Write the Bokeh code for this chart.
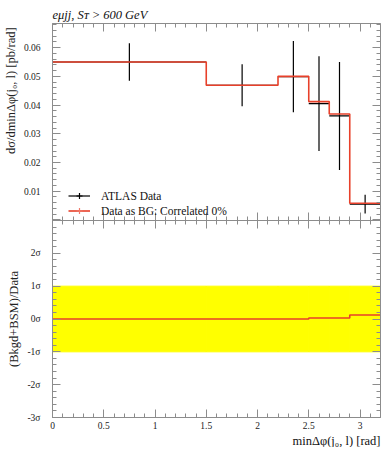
import numpy as np
from bokeh.plotting import figure
from bokeh.layouts import column
from bokeh.models import (Range1d, LinearAxis, SingleIntervalTicker, ColumnDataSource,
                          Legend, LegendItem, Title)
from bokeh.embed import file_html
from bokeh.resources import INLINE

# ---------------- data ----------------
bin_edges = [0.0, 1.5, 2.2, 2.5, 2.7, 2.9, 3.2]
data_y = [0.0550, 0.0469, 0.0499, 0.0405, 0.0362, 0.0055]
data_err = [0.0065, 0.0073, 0.0124, 0.0165, 0.0188, 0.0033]
mc_y = [0.0550, 0.0469, 0.0500, 0.0412, 0.0369, 0.0058]
ratio_sigma = [0.0, 0.0, 0.0, 0.03, 0.03, 0.12]
band_lo = [-1.0] * 6
band_hi = [1.0] * 6
sigma_ticks = [-3, -2, -1, 0, 1, 2]
sigma_labels = ["-3σ", "-2σ", "-1σ", "0σ", "1σ", "2σ"]
x_tick_labels = {0: "0", 1: "1", 2: "2", 3: "3"}

# ---------------- derived ----------------
lo = np.array(bin_edges[:-1])
hi = np.array(bin_edges[1:])
ctr = (lo + hi) / 2
dy = np.array(data_y)
de = np.array(data_err)


def step_xy(edges, vals):
    xs, ys = [], []
    for i, v in enumerate(vals):
        xs += [edges[i], edges[i + 1]]
        ys += [v, v]
    return xs, ys


RED = "#e8402a"
AX = "#8c8c8c"
FONT = "Liberation Serif"
W = 388


def style(ax, labels=True):
    ax.axis_line_color = AX
    ax.major_tick_line_color = AX
    ax.minor_tick_line_color = AX
    ax.major_tick_in = 8
    ax.major_tick_out = 0
    ax.minor_tick_in = 4
    ax.minor_tick_out = 0
    ax.major_label_text_font = FONT
    ax.axis_label_text_font = FONT
    ax.axis_label_text_font_style = "normal"
    ax.axis_label_text_font_size = "12.5px"
    ax.axis_label_text_color = "#222222"
    if labels:
        ax.major_label_text_font_size = "9.5px"
        ax.major_label_text_color = "#222222"
    else:
        ax.major_label_text_font_size = "1px"
        ax.major_label_text_color = None
        ax.major_label_standoff = 0


def xt():
    return SingleIntervalTicker(interval=0.5, num_minor_ticks=5)


def base(height, y_range, top, bottom):
    f = figure(width=W, height=height, x_range=Range1d(0, 3.2), y_range=y_range,
               output_backend="svg", toolbar_location=None,
               x_axis_type=None, y_axis_type=None,
               min_border_left=52, min_border_right=8,
               min_border_top=top, min_border_bottom=bottom)
    f.outline_line_color = None
    f.background_fill_color = "white"
    f.border_fill_color = "white"
    return f

# ================= upper panel =================
p1 = base(220, Range1d(-0.0002, 0.0684), 23, 0)
for side in ("below", "above"):
    a = LinearAxis(ticker=xt())
    style(a, False)
    p1.add_layout(a, side)
a = LinearAxis(ticker=SingleIntervalTicker(interval=0.01, num_minor_ticks=5),
               axis_label="\u2003" * 5 + "dσ/dminΔφ(j₀, l) [pb/rad]")
style(a)
a.major_label_standoff = 12
a.axis_label_standoff = 3
a.major_label_overrides = {0: ""}
p1.add_layout(a, "left")
a = LinearAxis(ticker=SingleIntervalTicker(interval=0.01, num_minor_ticks=5))
style(a, False)
p1.add_layout(a, "right")

src = ColumnDataSource(dict(lo=lo, hi=hi, x=ctr, y=dy, ylo=dy - de, yhi=dy + de))
r_h = p1.segment(x0="lo", x1="hi", y0="y", y1="y", source=src, line_color="black", line_width=1.2)
p1.segment(x0="x", x1="x", y0="ylo", y1="yhi", source=src, line_color="black", line_width=1.2)
r_cb = p1.scatter(x="x", y="y", source=src, marker="cross", size=0, line_color="black", line_width=1.2)
mx, my = step_xy(bin_edges, mc_y)
r_mc = p1.line(mx, my, line_color=RED, line_width=1.6)
r_cr = p1.scatter(x=ctr, y=mc_y, marker="cross", size=0, line_color="#f07a6a", line_width=1.2)

legend = Legend(items=[LegendItem(label="ATLAS Data", renderers=[r_h, r_cb]),
                       LegendItem(label="Data as BG: Correlated 0%", renderers=[r_mc, r_cr])],
                location=(16, 2), glyph_width=22, glyph_height=15, label_height=12,
                spacing=0, padding=0, margin=0, label_standoff=11,
                background_fill_alpha=0, border_line_color=None,
                label_text_font=FONT, label_text_font_size="11.5px", label_text_color="#111111")
p1.add_layout(legend, "center")

p1.add_layout(Title(text="eμjj, Sᴛ > 600 GeV", align="left", text_font=FONT,
                    text_font_style="italic", text_font_size="12.5px", text_color="#111111",
                    standoff=4), "above")

# ================= lower panel =================
p2 = base(227, Range1d(-3, 3), 0, 30)
a = LinearAxis(ticker=xt())
style(a)
a.major_label_standoff = 4
a.major_label_overrides = x_tick_labels
p2.add_layout(a, "below")
a = LinearAxis(ticker=xt())
style(a, False)
p2.add_layout(a, "above")
a = LinearAxis(ticker=SingleIntervalTicker(interval=1, num_minor_ticks=5),
               axis_label="(Bkgd+BSM)/Data")
style(a)
a.major_label_standoff = 12
a.axis_label_standoff = 3
a.major_label_overrides = dict(zip(sigma_ticks, sigma_labels)) | {3: ""}
p2.add_layout(a, "left")
a = LinearAxis(ticker=SingleIntervalTicker(interval=1, num_minor_ticks=5))
style(a, False)
p2.add_layout(a, "right")

p2.quad(left=lo, right=hi, bottom=band_lo, top=band_hi, fill_color="#ffff00",
        line_color="#ffff00", line_width=1)
rx, ry = step_xy(bin_edges, ratio_sigma)
p2.line(rx, ry, line_color=RED, line_width=1.6)

p2.add_layout(Title(text="minΔφ(j₀, l) [rad]", align="right", text_font=FONT,
                    text_font_style="normal", text_font_size="12.5px", text_color="#111111",
                    standoff=0), "below")

layout = column(p1, p2)
open("out.html", "w").write(file_html(layout, INLINE))
